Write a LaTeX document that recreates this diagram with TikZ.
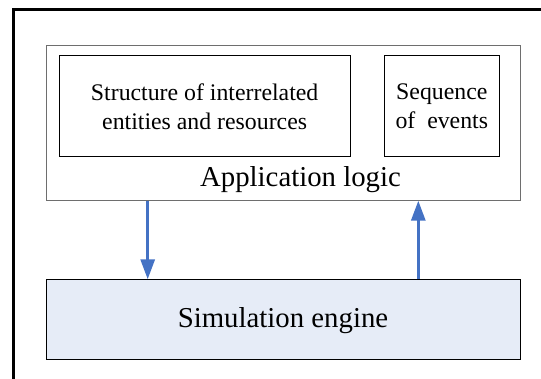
\documentclass[tikz,border=0pt]{standalone}
\usepackage{fontspec}
\setmainfont{Liberation Serif}
\usetikzlibrary{arrows.meta}
\definecolor{flowblue}{HTML}{4472C4}
\definecolor{enginefill}{HTML}{E6ECF7}
\definecolor{framegray}{HTML}{6E6E6E}
\tikzset{
  panel/.style={draw=black, line width=1pt, inner sep=0pt, outer sep=0pt},
  subtext/.style={font=\fontsize{23.8}{29}\selectfont, align=center},
  bigtext/.style={font=\fontsize{28.8}{34}\selectfont},
  flow/.style={draw=flowblue, line width=3pt, -{Triangle[length=20pt,width=14pt]}, shorten >=0pt},
}
\begin{document}
\begin{tikzpicture}[x=1pt,y=-1pt]
\useasboundingbox (0,0) rectangle (541,379);
% outer frame, running off the right and bottom edges
\draw[line width=3pt, line join=miter] (13,379) -- (13,9.5) -- (541,9.5);
% application logic container
\node[panel, draw=framegray, minimum width=474pt, minimum height=155pt, anchor=north west]
  (app) at (46,45.7) {};
\node[panel, subtext, minimum width=290.7pt, minimum height=101pt, anchor=north west]
  (struct) at (59.3,56) {Structure of interrelated\\entities and resources};
\node[panel, subtext, minimum width=115pt, minimum height=101pt, anchor=north west]
  (seq) at (384.3,56) {Sequence\\of\ \ events};
\node[bigtext, anchor=base] (applabel) at (300.5,187) {Application logic};
% simulation engine
\node[panel, fill=enginefill, bigtext, text height=20pt, text depth=3.3pt,
  minimum width=474pt, minimum height=80.7pt, anchor=north west]
  (engine) at (46,279.3) {Simulation engine};
% data flow between the two layers
\coordinate (downx) at (147.7,0);
\coordinate (upx) at (418.3,0);
\draw[flow] (app.south -| downx) -- (engine.north -| downx);
\draw[flow] (engine.north -| upx) -- (app.south -| upx);
\end{tikzpicture}
\end{document}
